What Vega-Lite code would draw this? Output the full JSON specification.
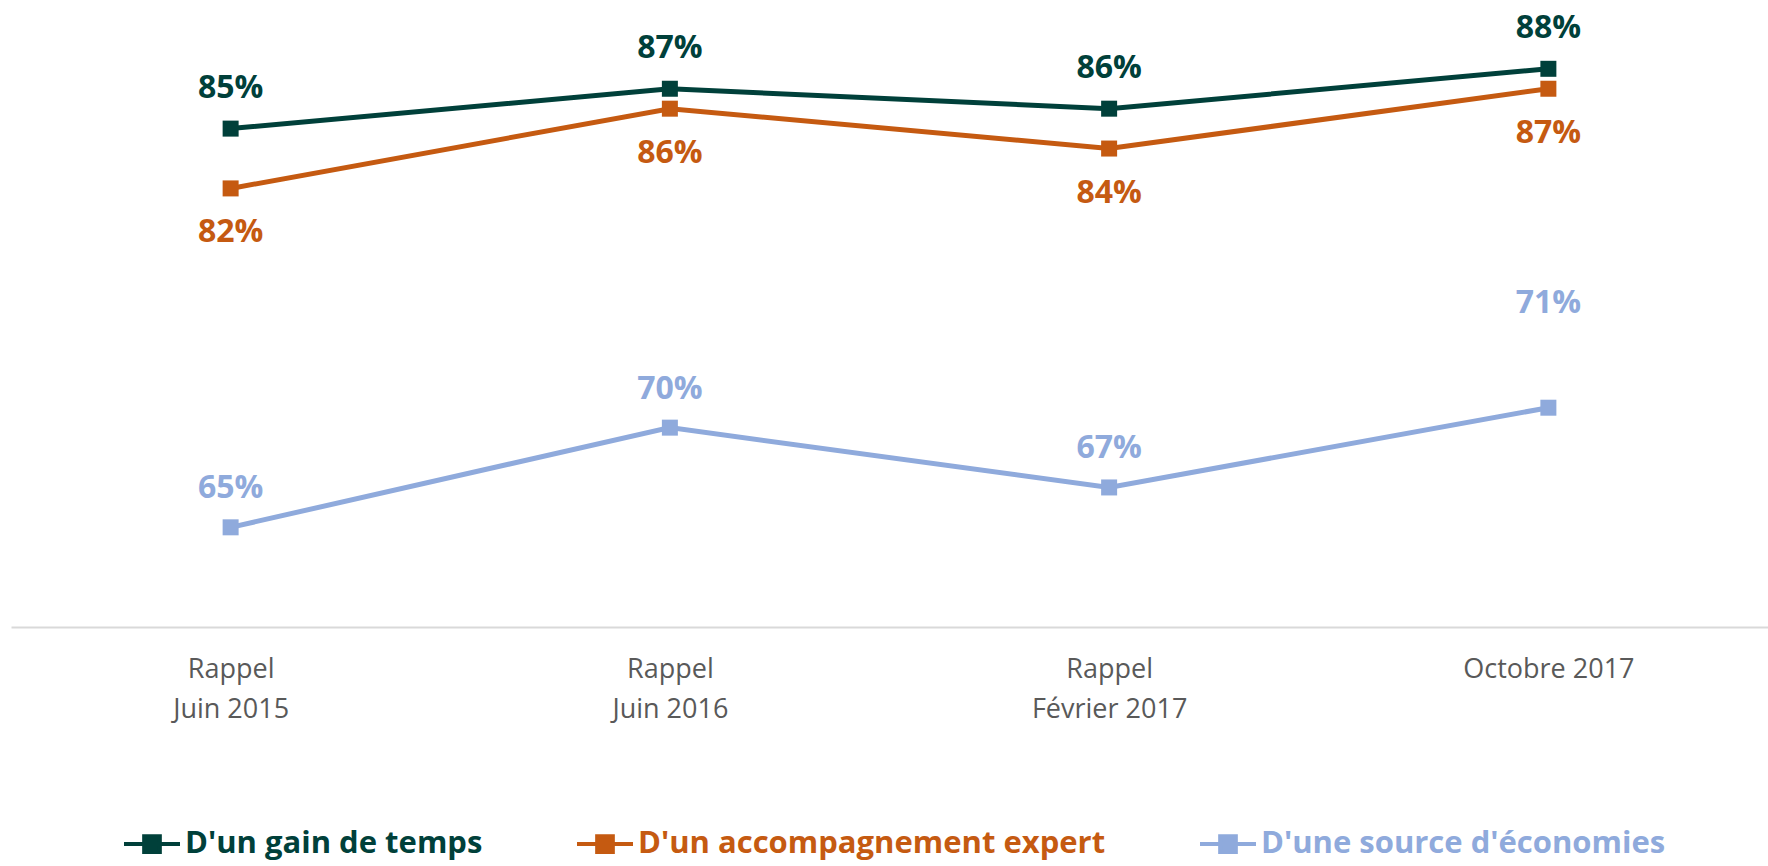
{
  "$schema": "https://vega.github.io/schema/vega-lite/v6.json",
  "width": 1757,
  "height": 618,
  "autosize": {"type": "none"},
  "padding": {"left": 11, "top": 9, "right": 0, "bottom": 239},
  "background": "white",
  "config": {"view": {"stroke": null}, "font": "Open Sans"},
  "data": {
    "values": [
      {"periode": "Rappel|Juin 2015", "serie": "D'un gain de temps", "valeur": 0.85},
      {"periode": "Rappel|Juin 2016", "serie": "D'un gain de temps", "valeur": 0.87},
      {"periode": "Rappel|Février 2017", "serie": "D'un gain de temps", "valeur": 0.86},
      {"periode": "Octobre 2017", "serie": "D'un gain de temps", "valeur": 0.88},
      {"periode": "Rappel|Juin 2015", "serie": "D'un accompagnement expert", "valeur": 0.82},
      {"periode": "Rappel|Juin 2016", "serie": "D'un accompagnement expert", "valeur": 0.86},
      {"periode": "Rappel|Février 2017", "serie": "D'un accompagnement expert", "valeur": 0.84},
      {"periode": "Octobre 2017", "serie": "D'un accompagnement expert", "valeur": 0.87},
      {"periode": "Rappel|Juin 2015", "serie": "D'une source d'économies", "valeur": 0.65},
      {"periode": "Rappel|Juin 2016", "serie": "D'une source d'économies", "valeur": 0.70},
      {"periode": "Rappel|Février 2017", "serie": "D'une source d'économies", "valeur": 0.67},
      {"periode": "Octobre 2017", "serie": "D'une source d'économies", "valeur": 0.71}
    ]
  },
  "encoding": {
    "x": {
      "field": "periode",
      "type": "nominal",
      "sort": ["Rappel|Juin 2015", "Rappel|Juin 2016", "Rappel|Février 2017", "Octobre 2017"],
      "scale": {"padding": 0.5},
      "axis": {
        "title": null,
        "labelExpr": "split(datum.label, '|')",
        "labelAngle": 0,
        "labelFont": "Open Sans",
        "labelFontSize": 27,
        "labelColor": "#595959",
        "labelLineHeight": 40,
        "labelPadding": 29,
        "ticks": false,
        "grid": false,
        "domainColor": "#D9D9D9",
        "domainWidth": 2
      }
    },
    "y": {
      "field": "valeur",
      "type": "quantitative",
      "scale": {"domain": [0.60, 0.91], "nice": false, "zero": false},
      "axis": null
    },
    "color": {
      "field": "serie",
      "type": "nominal",
      "scale": {
        "domain": ["D'un gain de temps", "D'un accompagnement expert", "D'une source d'économies"],
        "range": ["#00403A", "#C55A11", "#8FAADC"]
      },
      "legend": {
        "title": null,
        "orient": "none",
        "legendX": 111,
        "legendY": 805,
        "direction": "horizontal",
        "symbolType": "M-1,0H1M-0.28,-0.28H0.28V0.28H-0.28Z",
        "symbolSize": 3136,
        "symbolStrokeWidth": 4,
        "labelFont": "Open Sans",
        "labelFontSize": 31,
        "labelFontWeight": "bold",
        "labelOffset": 3,
        "labelLimit": 700,
        "columnPadding": 86,
        "encode": {
          "symbols": {"update": {
            "fill": {"scale": "color", "field": "value"},
            "stroke": {"scale": "color", "field": "value"},
            "strokeWidth": {"value": 4},
            "opacity": {"value": 1}
          }},
          "labels": {"update": {"fill": {"scale": "color", "field": "value"}}}
        }
      }
    }
  },
  "layer": [
    {"mark": {"type": "line", "strokeWidth": 5}},
    {"mark": {"type": "point", "shape": "square", "filled": true, "size": 256, "opacity": 1}},
    {
      "transform": [{"filter": {"field": "serie", "equal": "D'un gain de temps"}}],
      "mark": {"type": "text", "dy": -41, "fontSize": 32, "fontWeight": "bold", "font": "Open Sans", "baseline": "middle"},
      "encoding": {"text": {"field": "valeur", "type": "quantitative", "format": ".0%"}}
    },
    {
      "transform": [{"filter": {"field": "serie", "equal": "D'un accompagnement expert"}}],
      "mark": {"type": "text", "dy": 44, "fontSize": 32, "fontWeight": "bold", "font": "Open Sans", "baseline": "middle"},
      "encoding": {"text": {"field": "valeur", "type": "quantitative", "format": ".0%"}}
    },
    {
      "transform": [{"filter": {"and": [{"field": "serie", "equal": "D'une source d'économies"}, {"not": {"field": "periode", "equal": "Octobre 2017"}}]}}],
      "mark": {"type": "text", "dy": -39, "fontSize": 32, "fontWeight": "bold", "font": "Open Sans", "baseline": "middle"},
      "encoding": {"text": {"field": "valeur", "type": "quantitative", "format": ".0%"}}
    },
    {
      "transform": [{"filter": {"and": [{"field": "serie", "equal": "D'une source d'économies"}, {"field": "periode", "equal": "Octobre 2017"}]}}],
      "mark": {"type": "text", "dy": -105, "fontSize": 32, "fontWeight": "bold", "font": "Open Sans", "baseline": "middle"},
      "encoding": {"text": {"field": "valeur", "type": "quantitative", "format": ".0%"}}
    }
  ]
}
